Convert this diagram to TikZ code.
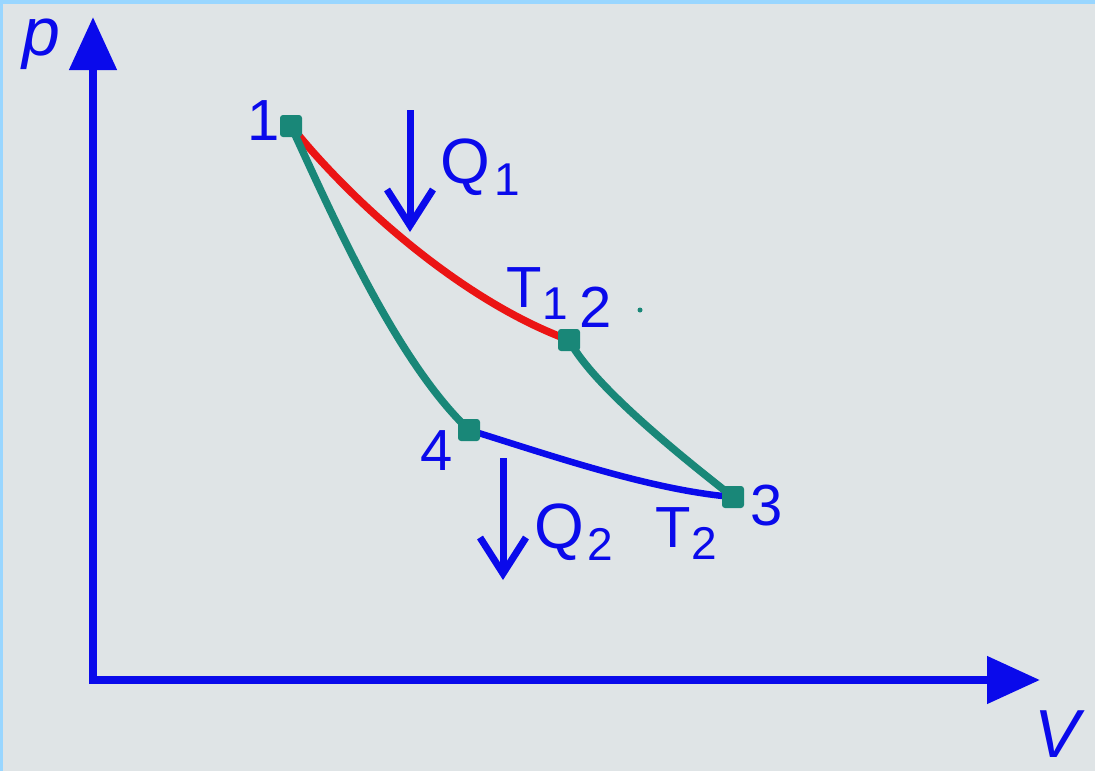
\documentclass[tikz,border=0pt]{standalone}
\usepackage{fontspec}
\setmainfont{Liberation Sans}
\usetikzlibrary{arrows.meta,backgrounds}
\definecolor{pvblue}{RGB}{10,10,235}
\definecolor{pvred}{RGB}{235,20,20}
\definecolor{pvteal}{RGB}{25,135,120}
\definecolor{pvback}{RGB}{223,228,230}
\definecolor{pvedge}{RGB}{153,214,255}
\newcommand{\lowidx}[1]{\raisebox{-12pt}{\fontsize{46}{48}\selectfont #1}}

\begin{document}
\begin{tikzpicture}[x=1pt,y=-1pt,
  axis/.style={pvblue,line width=8pt,line join=miter,
    {Triangle[length=53pt,width=46pt]}-{Triangle[length=53pt,width=46pt]}},
  heat/.style={pvblue,line width=7pt,-{Straight Barb[length=36pt,width=46pt]}},
  lbl/.style={text=pvblue,inner sep=0pt,font=\fontsize{58}{60}\selectfont},
  biglbl/.style={lbl,font=\fontsize{64}{66}\selectfont},
  axlbl/.style={lbl,font=\fontsize{68}{70}\selectfont\itshape},
  state/.style={fill=pvteal,minimum size=22pt,inner sep=0pt,rounded corners=3pt},
  hot/.style={pvred,line width=7.5pt},
  cold/.style={pvblue,line width=6.5pt},
  adia/.style={pvteal,line width=7.5pt}]
  \begin{pgfonlayer}{background}
    \fill[pvback] (0,0) rectangle (1095,771);
    \fill[pvedge] (0,0) rectangle (1095,4);
    \fill[pvedge] (0,0) rectangle (3,771);
  \end{pgfonlayer}

  % axes
  \coordinate (ytip) at (93,17);
  \coordinate (origin) at (93,680);
  \coordinate (xtip) at (1040,680);
  \draw[axis] (ytip) -- (origin) -- (xtip);
  \node[axlbl,anchor=base west] (plabel) at (22,55) {p};
  \node[axlbl,anchor=base west] (vlabel) at (1034,757) {V};

  % states
  \node[state] (p1) at (291,126) {};
  \node[state] (p2) at (569,340) {};
  \node[state] (p3) at (733,497) {};
  \node[state] (p4) at (469,430) {};
  \fill[pvteal] (640,310) circle (2.5pt);

  \begin{pgfonlayer}{background}
    \draw[hot] (p1.center) .. controls (350,200) and (460,300) .. (p2.center);
    \draw[adia] (p2.center) .. controls (590,380) and (660,440) .. (p3.center);
    \draw[cold] (p3.center) .. controls (650,490) and (550,455) .. (p4.center);
    \draw[adia] (p4.center) .. controls (395,360) and (330,210) .. (p1.center);
  \end{pgfonlayer}

  \node[lbl,anchor=base] (n1) at (264,140) {1};
  \node[lbl,anchor=base] (n2) at (596,327) {2};
  \node[lbl,anchor=base] (n3) at (767,525) {3};
  \node[lbl,anchor=base] (n4) at (437,470) {4};
  \node[lbl,anchor=base west] (t1) at (506,307) {T\kern1pt\lowidx{1}};
  \node[lbl,anchor=base west] (t2) at (655,547) {T\kern1pt\lowidx{2}};

  % heat flows
  \coordinate (q1top) at (410,110);
  \coordinate (q1end) at (410,232);
  \coordinate (q2top) at (503,458);
  \coordinate (q2end) at (503,580);
  \draw[heat] (q1top) -- (q1end);
  \draw[heat] (q2top) -- (q2end);
  \node[biglbl,anchor=base west] (q1) at (440,183) {Q\kern5pt\lowidx{1}};
  \node[biglbl,anchor=base west] (q2) at (534,548) {Q\kern4pt\lowidx{2}};
\end{tikzpicture}
\end{document}
